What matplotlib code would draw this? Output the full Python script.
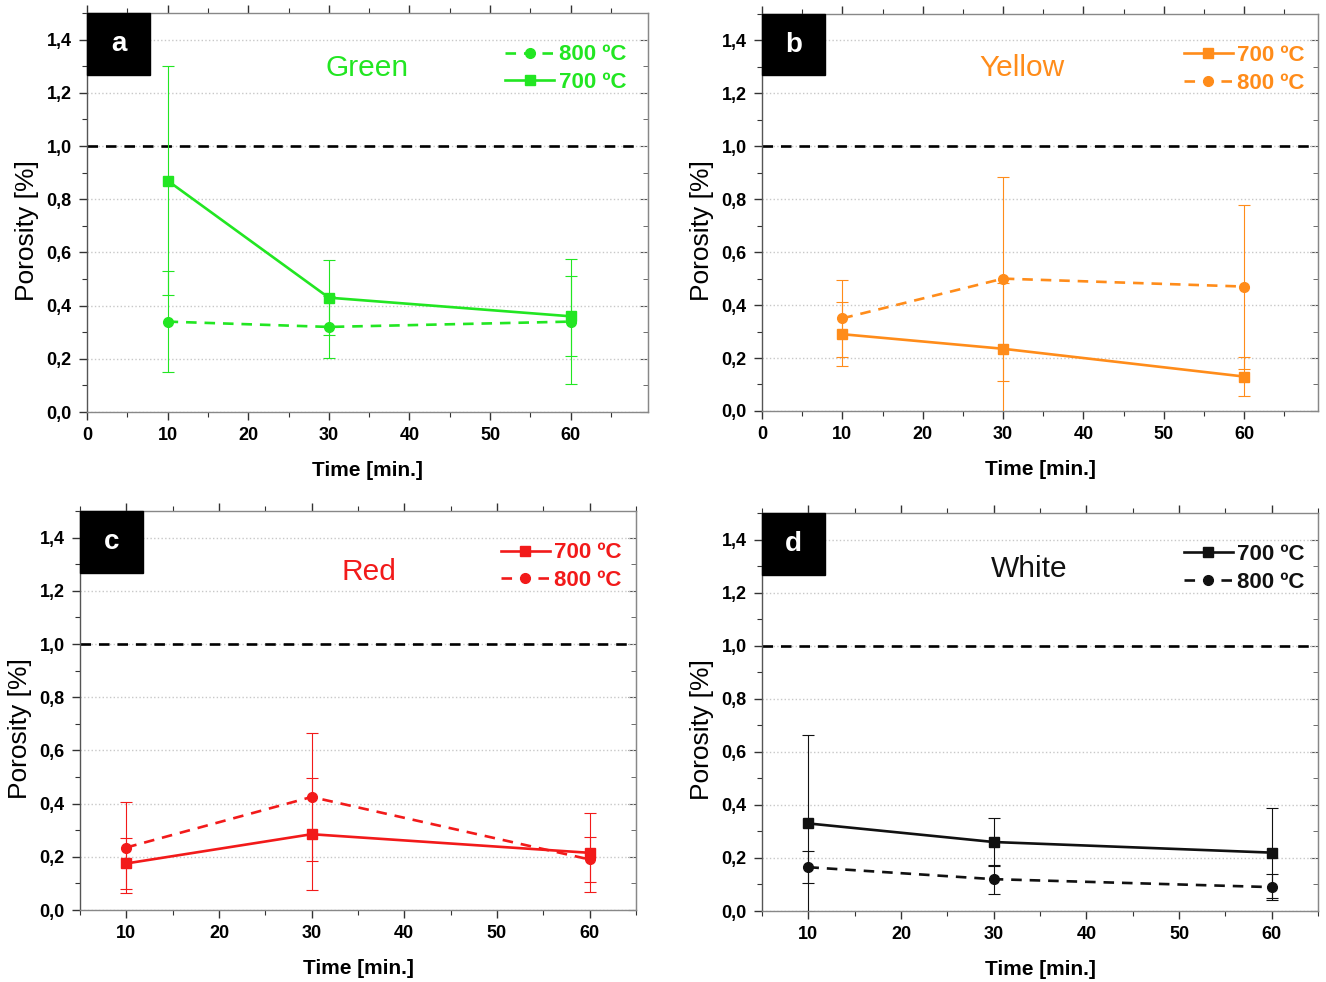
import matplotlib
matplotlib.use("Agg")
import matplotlib.pyplot as plt
from matplotlib.patches import Rectangle
from matplotlib.ticker import MultipleLocator, FuncFormatter

plt.rcParams['font.family'] = ['Liberation Sans', 'DejaVu Sans']

# data
times = [10, 30, 60]
threshold = 1.0

green_700 = [0.87, 0.43, 0.36]
green_700_err = [0.43, 0.14, 0.15]
green_800 = [0.34, 0.32, 0.34]
green_800_err = [0.19, 0.115, 0.235]

yellow_700 = [0.29, 0.235, 0.13]
yellow_700_err = [0.12, 0.25, 0.075]
yellow_800 = [0.35, 0.50, 0.47]
yellow_800_err = [0.145, 0.385, 0.31]

red_700 = [0.175, 0.285, 0.215]
red_700_err = [0.095, 0.21, 0.148]
red_800 = [0.235, 0.425, 0.19]
red_800_err = [0.17, 0.24, 0.085]

white_700 = [0.33, 0.26, 0.22]
white_700_err = [0.335, 0.09, 0.17]
white_800 = [0.165, 0.12, 0.09]
white_800_err = [0.06, 0.055, 0.048]

labels = ['700 ºC', '800 ºC']


def panel(ax, letter, name, color, y700, e700, y800, e800, xlim, xticks,
          order, name_pos, leg_x):
    ax.set_xlim(*xlim)
    ax.set_ylim(0, 1.5)

    # grid + reference line
    ax.yaxis.grid(True, which='major', color='#c8c8c8', ls=':', lw=1.0)
    ax.set_axisbelow(True)
    ax.axhline(threshold, xmax=0.985, color='black', ls=(0, (4, 3)), lw=1.9,
               zorder=2)

    ax.errorbar(times, y700, yerr=e700, fmt='none', ecolor=color,
                elinewidth=0.8, capsize=4, capthick=0.8, zorder=3)
    ax.errorbar(times, y800, yerr=e800, fmt='none', ecolor=color,
                elinewidth=0.8, capsize=4, capthick=0.8, zorder=3)
    l700, = ax.plot(times, y700, color=color, lw=1.9, marker='s', ms=6.5,
                    label=labels[0], zorder=4)
    l800, = ax.plot(times, y800, color=color, lw=1.9, ls=(0, (4, 3)),
                    marker='o', ms=7, label=labels[1], zorder=4)

    handles = [l700, l800] if order == 0 else [l800, l700]
    leg = ax.legend(handles=handles, loc='upper right',
                    bbox_to_anchor=(leg_x, 0.955), frameon=False,
                    handlelength=2.2, handletextpad=0.2, labelspacing=0.3,
                    borderpad=0.1, numpoints=1,
                    prop={'size': 16, 'weight': 'bold'})
    for t in leg.get_texts():
        t.set_color(color)

    ax.text(name_pos[0], name_pos[1], name, transform=ax.transAxes,
            color=color, fontsize=21.5, ha='center', va='center')

    # panel letter box
    ax.add_patch(Rectangle((0, 1 - 0.155), 0.113, 0.155,
                           transform=ax.transAxes, color='black',
                           zorder=6, clip_on=False))
    ax.text(0.0565, 1 - 0.0775, letter, transform=ax.transAxes,
            color='white', fontsize=20, fontweight='bold', ha='center',
            va='center', zorder=7)

    ax.set_xticks(xticks)
    ax.xaxis.set_minor_locator(MultipleLocator(5))
    ax.yaxis.set_major_locator(MultipleLocator(0.2))
    ax.yaxis.set_minor_locator(MultipleLocator(0.1))
    ax.yaxis.set_major_formatter(
        FuncFormatter(lambda v, p: ('%.1f' % v).replace('.', ',')))
    ax.tick_params(which='both', direction='out', top=True, right=False,
                   colors='#333333', labelcolor='black')
    ax.tick_params(which='major', length=6, width=1, pad=5)
    ax.tick_params(which='minor', length=3.5, width=0.8)
    for lab in ax.get_xticklabels() + ax.get_yticklabels():
        lab.set_fontsize(13)
        lab.set_fontweight('bold')

    # inward ticks on the right side
    sec = ax.secondary_yaxis('right')
    sec.yaxis.set_major_locator(MultipleLocator(0.2))
    sec.yaxis.set_minor_locator(MultipleLocator(0.1))
    sec.tick_params(which='both', direction='in', labelright=False,
                    colors='#555555')
    sec.tick_params(which='major', length=6)
    sec.tick_params(which='minor', length=3.5)
    sec.spines['right'].set_color('#888888')

    for s in ax.spines.values():
        s.set_color('#888888')
        s.set_linewidth(1.0)
    ax.spines['left'].set_color('#555555')

    ax.set_ylabel('Porosity [%]', fontsize=19)
    ax.yaxis.set_label_coords(-0.086, 0.455)
    ax.set_xlabel('Time [min.]', fontsize=15, fontweight='bold', labelpad=12)


fig = plt.figure(figsize=(13.26, 9.82), dpi=100)
ax_a = fig.add_axes([0.0656, 0.5804, 0.4231, 0.4063])
ax_b = fig.add_axes([0.5747, 0.5815, 0.4193, 0.4043])
ax_c = fig.add_axes([0.0603, 0.0733, 0.4193, 0.4063])
ax_d = fig.add_axes([0.5747, 0.0723, 0.4193, 0.4053])

ticks_full = [0, 10, 20, 30, 40, 50, 60]
ticks_short = [10, 20, 30, 40, 50, 60]

panel(ax_a, 'a', 'Green', '#22e622', green_700, green_700_err,
      green_800, green_800_err, (0, 69.6), ticks_full, 1, (0.50, 0.862),
      0.985)
panel(ax_b, 'b', 'Yellow', '#ff8c1a', yellow_700, yellow_700_err,
      yellow_800, yellow_800_err, (0, 69.2), ticks_full, 0, (0.468, 0.865),
      1.0)
panel(ax_c, 'c', 'Red', '#f21a1a', red_700, red_700_err,
      red_800, red_800_err, (5, 65), ticks_short, 0, (0.52, 0.848), 0.998)
panel(ax_d, 'd', 'White', '#111111', white_700, white_700_err,
      white_800, white_800_err, (5, 65), ticks_short, 0, (0.48, 0.86), 1.0)

fig.savefig('out.png', dpi=100)
